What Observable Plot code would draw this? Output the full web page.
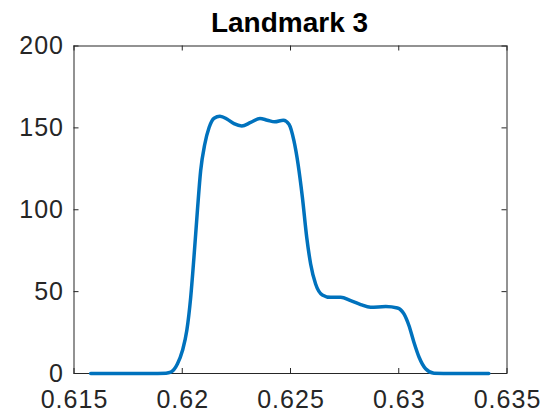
<!DOCTYPE html>
<html>
<head>
<meta charset="utf-8">
<script src="https://cdn.jsdelivr.net/npm/d3@7"></script>
<script src="https://cdn.jsdelivr.net/npm/@observablehq/plot@0.6"></script>
<style>
  html, body { margin: 0; padding: 0; background: #fff; }
  #wrap { position: relative; width: 560px; height: 420px; font-family: "Liberation Sans", Arial, Helvetica, sans-serif; }
  #wrap svg text { font-family: "Liberation Sans", Arial, Helvetica, sans-serif; font-size: 25px; letter-spacing: 1px; }
  #title { position: absolute; left: 73px; width: 433px; top: 6px; text-align: center; font-weight: bold; font-size: 28px; line-height: 34px; color: #000; }
</style>
</head>
<body>
<div id="wrap"><div id="title">Landmark 3</div></div>
<script>
const titleText = "Landmark 3";
const xVals = [0.61577, 0.6170, 0.6185, 0.61925, 0.61947, 0.61978, 0.62001, 0.62021, 0.62039, 0.62054, 0.6207, 0.62085, 0.62104, 0.62124, 0.62147, 0.62174, 0.62208, 0.62239, 0.62275, 0.62316, 0.62359, 0.62393, 0.62427, 0.62467, 0.62493, 0.62516, 0.62535, 0.62555, 0.62575, 0.62593, 0.62616, 0.62647, 0.62686, 0.62732, 0.62778, 0.62824, 0.6287, 0.6294, 0.62994, 0.63024, 0.63047, 0.6307, 0.63094, 0.63124, 0.63163, 0.6325, 0.6335, 0.63416];
const yVals = [0, 0, 0, 0.2, 0.8, 5.9, 14, 26.2, 46.5, 70.9, 99.4, 123.8, 140, 150.2, 155.9, 157.1, 155.3, 152.6, 151.2, 153.3, 155.7, 154.7, 153.7, 154.7, 152.2, 142, 127.8, 107.5, 83.1, 66.9, 54.7, 48, 46.5, 46.5, 44.5, 42.1, 40.4, 40.9, 40, 36.4, 29.3, 19.1, 9.9, 2.9, 0.2, 0, 0, 0];
const xTicks = [0.615, 0.62, 0.625, 0.63, 0.635];
const xTickLabels = ["0.615", "0.62", "0.625", "0.63", "0.635"];
const yTicks = [0, 50, 100, 150, 200];
const yTickLabels = ["0", "50", "100", "150", "200"];

const data = xVals.map((x, i) => ({x, y: yVals[i]}));
const axisColor = "#262626";
const H = 420, mT = 45.5, mB = 47;
const fh = H - mT - mB;
const tl = 5;

const chart = Plot.plot({
  width: 560,
  height: H,
  marginLeft: 73.5,
  marginRight: 53.5,
  marginTop: mT,
  marginBottom: mB,
  style: "font-family: 'Liberation Sans', Arial, Helvetica, sans-serif; font-size: 25px; letter-spacing: 1px; color: #262626; background: transparent;",
  x: {domain: [0.615, 0.635]},
  y: {domain: [0, 200]},
  marks: [
    Plot.frame({stroke: axisColor, strokeWidth: 1}),
    Plot.tickX(xTicks, {x: d => d, stroke: axisColor, insetTop: fh - tl}),
    Plot.tickX(xTicks, {x: d => d, stroke: axisColor, insetBottom: fh - tl}),
    Plot.tickY(yTicks, {y: d => d, stroke: axisColor, insetRight: 433 - tl}),
    Plot.tickY(yTicks, {y: d => d, stroke: axisColor, insetLeft: 433 - tl}),
    Plot.axisX(xTicks, {tickSize: 0, tickPadding: 17, label: null, fill: axisColor, fontSize: 25, dx: 0.5,
      tickFormat: d => xTickLabels[xTicks.indexOf(d)]}),
    Plot.axisY(yTicks, {tickSize: 0, tickPadding: 10, label: null, fill: axisColor, fontSize: 25,
      tickFormat: d => yTickLabels[yTicks.indexOf(d)]}),
    Plot.line(data, {x: "x", y: "y", stroke: "#0072BD", strokeWidth: 3.5, curve: "monotone-x"})
  ]
});
chart.style.position = "absolute";
chart.style.left = "0";
chart.style.top = "0";
const wrap = document.getElementById("wrap");
wrap.insertBefore(chart, wrap.firstChild);
document.getElementById("title").textContent = titleText;
</script>
</body>
</html>
